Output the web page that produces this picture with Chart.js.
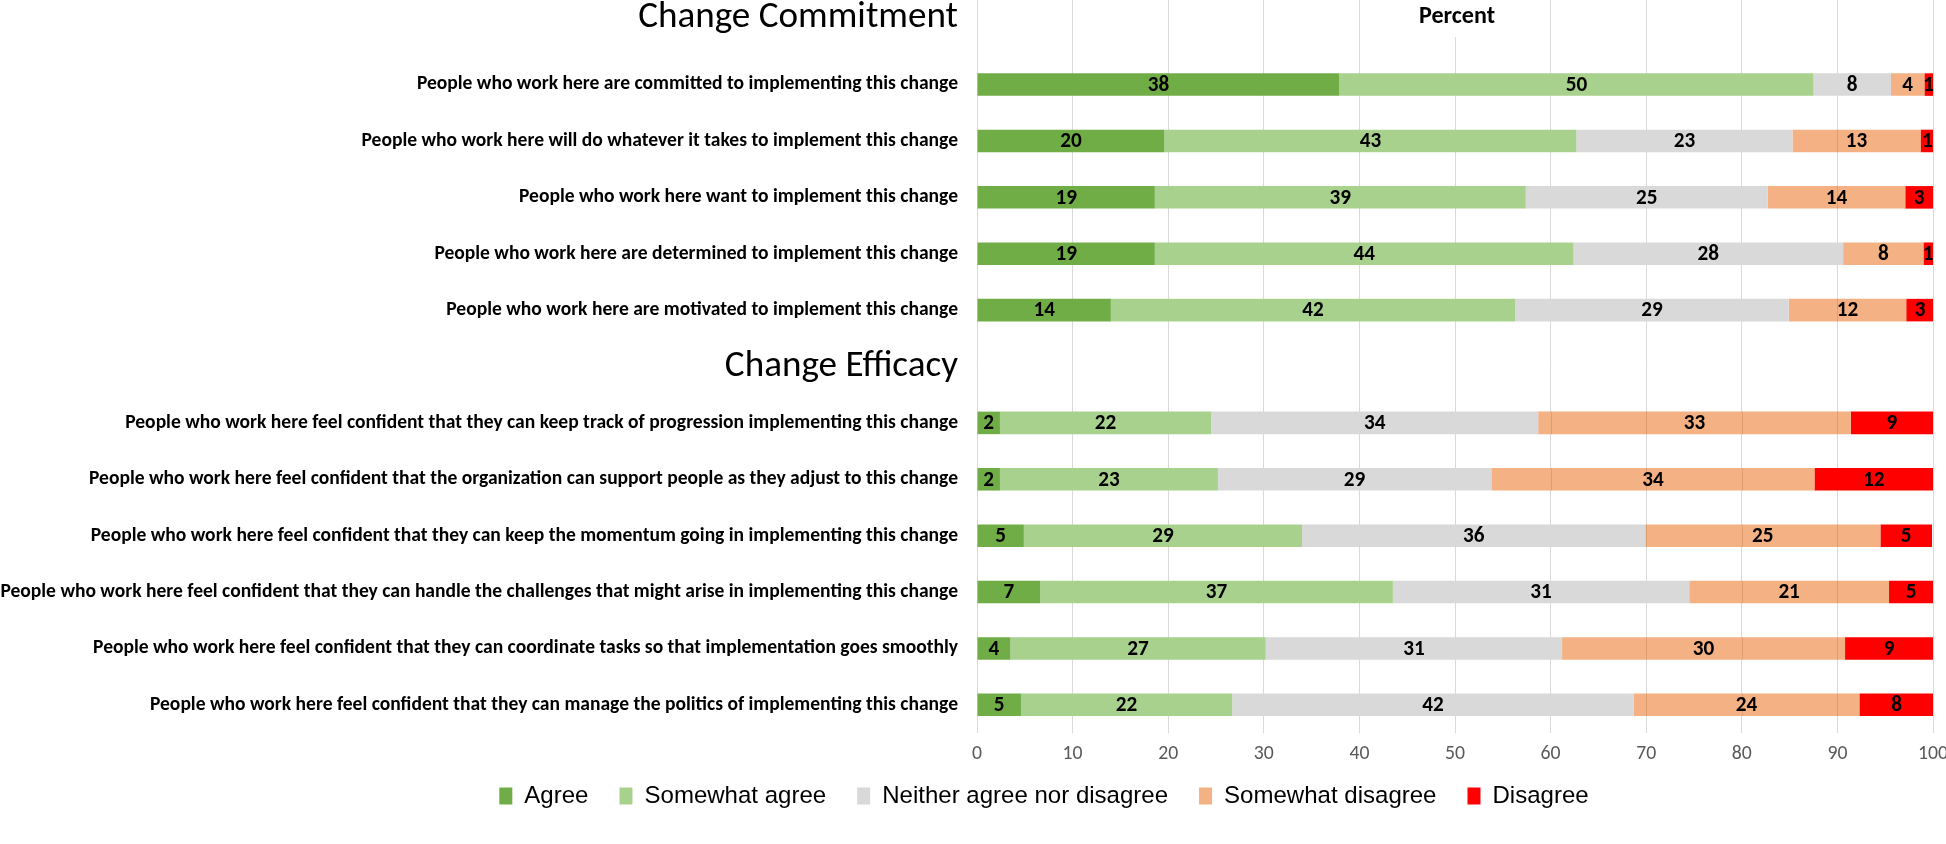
<!DOCTYPE html>
<html><head><meta charset="utf-8">
<script src="https://cdn.jsdelivr.net/npm/chart.js@4.4.1/dist/chart.umd.min.js"></script>
<style>html,body{margin:0;padding:0;background:#fff;}#wrap{width:1946px;height:844px;position:relative;}</style>
</head><body><div id="wrap"><canvas id="c"></canvas></div>
<script>
const sectionTitles = ['Change Commitment', 'Change Efficacy'];
const commitmentItems = [
  'People who work here are committed to implementing this change',
  'People who work here will do whatever it takes to implement this change',
  'People who work here want to implement this change',
  'People who work here are determined to implement this change',
  'People who work here are motivated to implement this change'
];
const efficacyItems = [
  'People who work here feel confident that they can keep track of progression implementing this change',
  'People who work here feel confident that the organization can support people as they adjust to this change',
  'People who work here feel confident that they can keep the momentum going in implementing this change',
  'People who work here feel confident that they can handle the challenges that might arise in implementing this change',
  'People who work here feel confident that they can coordinate tasks so that implementation goes smoothly',
  'People who work here feel confident that they can manage the politics of implementing this change'
];
const seriesNames = ['Agree', 'Somewhat agree', 'Neither agree nor disagree', 'Somewhat disagree', 'Disagree'];
const agree            = [37.9, 19.6, 18.6, 18.6, 14.0, 2.4, 2.4, 4.9, 6.6, 3.5, 4.6];
const somewhatAgree    = [49.6, 43.1, 38.8, 43.8, 42.3, 22.1, 22.8, 29.1, 36.9, 26.7, 22.1];
const neither          = [8.1, 22.6, 25.3, 28.2, 28.6, 34.2, 28.6, 35.9, 31.0, 31.0, 42.0];
const somewhatDisagree = [3.5, 13.4, 14.4, 8.4, 12.3, 32.7, 33.8, 24.6, 20.9, 29.6, 23.6];
const disagree         = [0.9, 1.4, 2.9, 1.0, 2.9, 8.6, 12.4, 5.4, 4.6, 9.2, 7.8];
const xTickLabels = ['0', '10', '20', '30', '40', '50', '60', '70', '80', '90', '100'];
const axisTitle = 'Percent';

const seriesColors = ['#70AD47', '#A9D18E', '#D9D9D9', '#F4B183', '#FF0000'];

// ---------- font helpers ----------
function hasFont(name) {
  const c = document.createElement('canvas').getContext('2d');
  const s = 'mmmmmmmmmmwwwwwlllliiiI1Wg';
  let diff = false;
  ['monospace', 'serif'].forEach(fb => {
    c.font = '72px ' + fb; const a = c.measureText(s).width;
    c.font = '72px "' + name + '", ' + fb; const b = c.measureText(s).width;
    if (Math.abs(a - b) > 0.5) diff = true;
  });
  return diff;
}
function pick(list, dflt) { for (const f of list) if (hasFont(f)) return '"' + f + '"'; return dflt; }
const FAM = pick(['Carlito', 'Lato', 'Liberation Sans'], 'sans-serif');
const LEGFAM = pick(['Liberation Sans', 'Arimo'], 'sans-serif');
const mctx = document.createElement('canvas').getContext('2d');
function fitSize(text, weight, fam, target) {
  mctx.font = weight + ' 100px ' + fam;
  return 100 * target / mctx.measureText(text).width;
}
const longest = efficacyItems.reduce((a, b) => { mctx.font = 'bold 100px ' + FAM; return mctx.measureText(b).width > mctx.measureText(a).width ? b : a; });
const labelSize = fitSize(longest, 'bold', FAM, 958);
const headerSize = fitSize(sectionTitles[0], 'normal', FAM, 320);
const valueSize = fitSize('38', 'bold', FAM, 21.5);
const tickSize = fitSize('40', 'normal', FAM, 20);
const pctSize = fitSize(axisTitle, 'bold', FAM, 76);
const legendSize = fitSize(seriesNames[2], 'normal', LEGFAM, 286);

// ---------- build category slots ----------
const labels = [[sectionTitles[0], ''], ...commitmentItems, sectionTitles[1], ...efficacyItems];
const headerIdx = [0, commitmentItems.length + 1];
function slots(arr) {
  return [null, ...arr.slice(0, commitmentItems.length), null, ...arr.slice(commitmentItems.length)];
}
const seriesValues = [agree, somewhatAgree, neither, somewhatDisagree, disagree];
const datasets = seriesNames.map((n, i) => ({
  label: n, data: slots(seriesValues[i]), backgroundColor: seriesColors[i],
  borderWidth: 0, barPercentage: 0.4, categoryPercentage: 1.0
}));

const LEG_H = 50, PLOT_BOTTOM = 733, PLOT_LEFT = 977, RIGHT_PAD = 13, LEG_CY = 796, LEG_CX = 1044;

const fixLayout = {
  id: 'fixLayout',
  beforeInit(chart) {
    const lg = chart.legend;
    const orig = lg.fit;
    lg.fit = function () { orig.call(this); this.height = LEG_H; };
  },
  afterLayout(chart) {
    const lg = chart.legend;
    const dx = LEG_CX - (lg.left + lg.right) / 2;
    lg.left += dx; lg.right += dx;
    const pad = lg.options.labels.padding;
    const itemH = Math.max(legendSize, lg.options.labels.boxHeight);
    lg.top = LEG_CY - pad - itemH / 2;
    lg.bottom = chart.height;
  }
};

const gridOverlay = {
  id: 'gridOverlay',
  afterDatasetsDraw(chart) {
    const ctx = chart.ctx, xs = chart.scales.x;
    const meta = chart.getDatasetMeta(3);
    ctx.save();
    meta.data.forEach((el, j) => {
      if (datasets[3].data[j] == null) return;
      const p = el.getProps(['x', 'y', 'base', 'height'], true);
      ctx.save();
      ctx.beginPath();
      ctx.rect(Math.min(p.base, p.x), p.y - p.height / 2, Math.abs(p.x - p.base), p.height);
      ctx.clip();
      ctx.strokeStyle = 'rgba(120,70,30,0.18)';
      ctx.lineWidth = 1;
      for (let v = 10; v < 100; v += 10) {
        const px = Math.round(xs.getPixelForValue(v)) + 0.5;
        ctx.beginPath(); ctx.moveTo(px, p.y - p.height); ctx.lineTo(px, p.y + p.height); ctx.stroke();
      }
      ctx.restore();
    });
    ctx.restore();
  }
};

const barLabels = {
  id: 'barLabels',
  afterDatasetsDraw(chart) {
    const ctx = chart.ctx;
    ctx.save();
    ctx.font = 'bold ' + valueSize + 'px ' + FAM;
    ctx.fillStyle = '#000';
    ctx.textAlign = 'center';
    ctx.textBaseline = 'middle';
    chart.data.datasets.forEach((ds, i) => {
      chart.getDatasetMeta(i).data.forEach((el, j) => {
        const v = ds.data[j];
        if (v == null) return;
        const p = el.getCenterPoint();
        ctx.fillText(String(Math.round(v)), p.x, p.y + 1);
      });
    });
    ctx.restore();
  }
};

const percentTitle = {
  id: 'percentTitle',
  afterDraw(chart) {
    const ctx = chart.ctx, xs = chart.scales.x;
    const x50 = xs.getPixelForValue(50);
    ctx.save();
    ctx.fillStyle = '#fff';
    ctx.fillRect(x50 - 40, 0, 80, 37);
    ctx.font = 'bold ' + pctSize + 'px ' + FAM;
    ctx.fillStyle = '#000';
    ctx.textAlign = 'center';
    ctx.textBaseline = 'middle';
    ctx.fillText(axisTitle, x50 + 2, 17);
    ctx.restore();
  }
};

new Chart(document.getElementById('c'), {
  type: 'bar',
  data: { labels, datasets },
  options: {
    indexAxis: 'y',
    responsive: true,
    maintainAspectRatio: false,
    animation: false,
    layout: { padding: 0 },
    scales: {
      x: {
        stacked: true, min: 0, max: 100,
        grid: { color: '#D9D9D9', lineWidth: 1, drawTicks: false },
        border: { display: false },
        ticks: {
          stepSize: 10, color: '#595959', padding: 9,
          font: { family: FAM, size: tickSize },
          callback: (v, i) => xTickLabels[i]
        },
        afterFit(s) { s.height = 844 - PLOT_BOTTOM - LEG_H; s.paddingLeft = 0; s.paddingRight = RIGHT_PAD; }
      },
      y: {
        stacked: true,
        grid: { display: false, drawTicks: false },
        border: { display: false },
        ticks: {
          color: '#000', padding: 19, autoSkip: false,
          font: (ctx) => headerIdx.includes(ctx.index)
            ? { family: FAM, size: headerSize, weight: 'normal', lineHeight: 21 / headerSize }
            : { family: FAM, size: labelSize, weight: 'bold' }
        },
        afterFit(s) { s.width = PLOT_LEFT; s.paddingTop = 0; s.paddingBottom = 0; }
      }
    },
    plugins: {
      legend: {
        position: 'bottom',
        labels: {
          boxWidth: 13, boxHeight: 17, padding: 31, color: '#000',
          font: { family: LEGFAM, size: legendSize }
        }
      },
      tooltip: { enabled: false }
    }
  },
  plugins: [fixLayout, gridOverlay, barLabels, percentTitle]
});
</script>
</body></html>
